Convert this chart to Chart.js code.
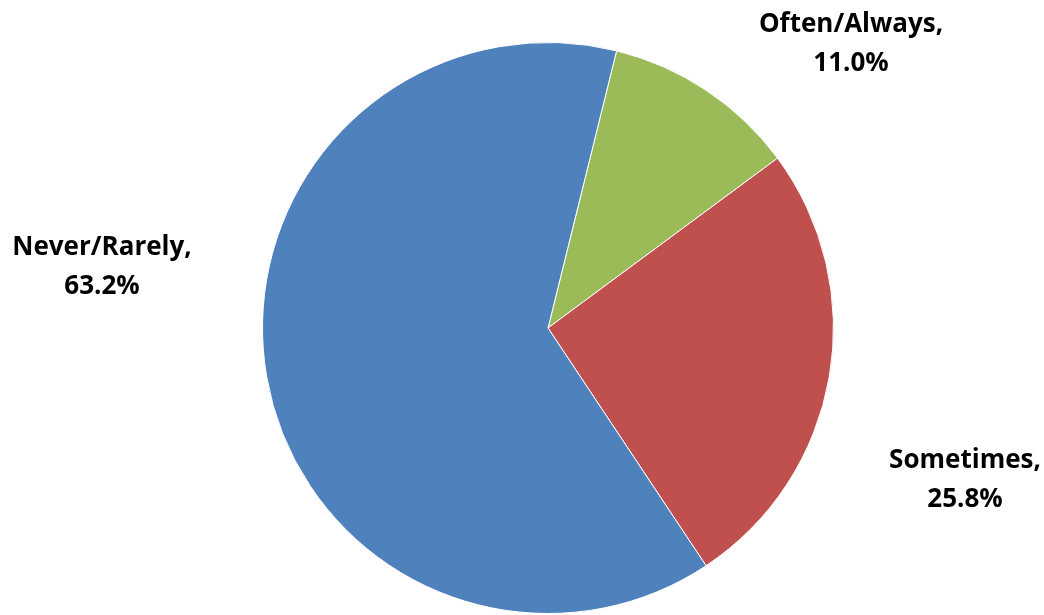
<!DOCTYPE html>
<html>
<head>
<meta charset="utf-8">
<script src="https://cdn.jsdelivr.net/npm/chart.js@4/dist/chart.umd.min.js"></script>
<style>
  html, body { margin: 0; padding: 0; background: #fff; }
  #wrap { width: 1044px; height: 615px; }
</style>
</head>
<body>
<div id="wrap"><canvas id="pie" width="1044" height="615"></canvas></div>
<script>
const categories = ["Often/Always", "Sometimes", "Never/Rarely"];
const shares = [11.0, 25.8, 63.2];
const sliceColors = ["#9BBB59", "#C0504D", "#4F81BD"];

// where each two-line label sits (centre of text block)
const labelSpots = [
  { x: 851, y: 44 },
  { x: 965, y: 480 },
  { x: 102, y: 267 }
];

const pieLabels = {
  id: "pieLabels",
  afterDatasetsDraw(chart) {
    const ctx = chart.ctx;
    ctx.save();
    ctx.fillStyle = "#000";
    ctx.font = "bold 26px 'Open Sans', sans-serif";
    ctx.textAlign = "center";
    ctx.textBaseline = "middle";
    categories.forEach((name, i) => {
      const spot = labelSpots[i];
      ctx.fillText(name + ",", spot.x, spot.y - 19);
      ctx.fillText(shares[i].toFixed(1) + "%", spot.x, spot.y + 20);
    });
    ctx.restore();
  }
};

new Chart(document.getElementById("pie"), {
  type: "pie",
  data: {
    labels: categories,
    datasets: [{
      data: shares,
      backgroundColor: sliceColors,
      borderColor: "#ffffff",
      borderWidth: 1
    }]
  },
  options: {
    responsive: false,
    animation: false,
    rotation: 13.9,
    layout: { padding: { left: 262, right: 210, top: 42, bottom: 1 } },
    plugins: {
      legend: { display: false },
      tooltip: { enabled: false }
    }
  },
  plugins: [pieLabels]
});
</script>
</body>
</html>
